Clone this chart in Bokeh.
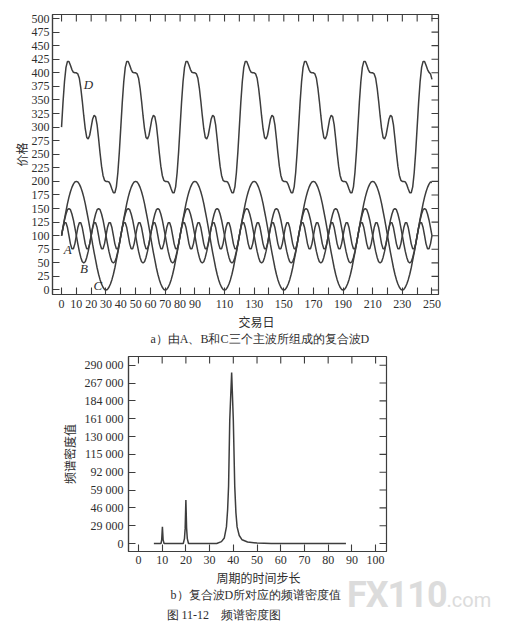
import math
from bokeh.plotting import figure
from bokeh.models import Range1d, FixedTicker, Title, Label, Div
from bokeh.embed import file_html
from bokeh.resources import INLINE

# ---------------- data: chart a (price waves) ----------------
days = list(range(0, 251))

wave_a = [
    100,115,124,124,115,100,85,76,76,85,100,115,124,124,115,100,85,76,76,85,
    100,115,124,124,115,100,85,76,76,85,100,115,124,124,115,100,85,76,76,85,
    100,115,124,124,115,100,85,76,76,85,100,115,124,124,115,100,85,76,76,85,
    100,115,124,124,115,100,85,76,76,85,100,115,124,124,115,100,85,76,76,85,
    100,115,124,124,115,100,85,76,76,85,100,115,124,124,115,100,85,76,76,85,
    100,115,124,124,115,100,85,76,76,85,100,115,124,124,115,100,85,76,76,85,
    100,115,124,124,115,100,85,76,76,85,100,115,124,124,115,100,85,76,76,85,
    100,115,124,124,115,100,85,76,76,85,100,115,124,124,115,100,85,76,76,85,
    100,115,124,124,115,100,85,76,76,85,100,115,124,124,115,100,85,76,76,85,
    100,115,124,124,115,100,85,76,76,85,100,115,124,124,115,100,85,76,76,85,
    100,115,124,124,115,100,85,76,76,85,100,115,124,124,115,100,85,76,76,85,
    100,115,124,124,115,100,85,76,76,85,100,115,124,124,115,100,85,76,76,85,
    100,115,124,124,115,100,85,76,76,85,
    100,
]

wave_b = [
    100,115,129,140,148,150,148,140,129,115,100,85,71,60,52,50,52,60,71,85,
    100,115,129,140,148,150,148,140,129,115,100,85,71,60,52,50,52,60,71,85,
    100,115,129,140,148,150,148,140,129,115,100,85,71,60,52,50,52,60,71,85,
    100,115,129,140,148,150,148,140,129,115,100,85,71,60,52,50,52,60,71,85,
    100,115,129,140,148,150,148,140,129,115,100,85,71,60,52,50,52,60,71,85,
    100,115,129,140,148,150,148,140,129,115,100,85,71,60,52,50,52,60,71,85,
    100,115,129,140,148,150,148,140,129,115,100,85,71,60,52,50,52,60,71,85,
    100,115,129,140,148,150,148,140,129,115,100,85,71,60,52,50,52,60,71,85,
    100,115,129,140,148,150,148,140,129,115,100,85,71,60,52,50,52,60,71,85,
    100,115,129,140,148,150,148,140,129,115,100,85,71,60,52,50,52,60,71,85,
    100,115,129,140,148,150,148,140,129,115,100,85,71,60,52,50,52,60,71,85,
    100,115,129,140,148,150,148,140,129,115,100,85,71,60,52,50,52,60,71,85,
    100,115,129,140,148,150,148,140,129,115,100,
]

wave_c = [
    100,116,131,145,159,171,181,189,195,199,200,199,195,189,181,171,159,145,131,116,
    100,84,69,55,41,29,19,11,5,1,0,1,5,11,19,29,41,55,69,84,
    100,116,131,145,159,171,181,189,195,199,200,199,195,189,181,171,159,145,131,116,
    100,84,69,55,41,29,19,11,5,1,0,1,5,11,19,29,41,55,69,84,
    100,116,131,145,159,171,181,189,195,199,200,199,195,189,181,171,159,145,131,116,
    100,84,69,55,41,29,19,11,5,1,0,1,5,11,19,29,41,55,69,84,
    100,116,131,145,159,171,181,189,195,199,200,199,195,189,181,171,159,145,131,116,
    100,84,69,55,41,29,19,11,5,1,0,1,5,11,19,29,41,55,69,84,
    100,116,131,145,159,171,181,189,195,199,200,199,195,189,181,171,159,145,131,116,
    100,84,69,55,41,29,19,11,5,1,0,1,5,11,19,29,41,55,69,84,
    100,116,131,145,159,171,181,189,195,199,200,199,195,189,181,171,159,145,131,116,
    100,84,69,55,41,29,19,11,5,1,0,1,5,11,19,29,41,55,69,84,
    100,116,131,145,159,171,181,189,195,199,198,
]

wave_d = [
    300,346,384,410,421,421,414,406,401,400,400,398,390,372,348,321,297,281,278,285,
    300,315,322,319,304,279,252,228,211,202,200,200,199,194,186,179,179,190,216,254,
    300,346,384,410,421,421,414,406,401,400,400,398,390,372,348,321,297,281,278,285,
    300,315,322,319,304,279,252,228,211,202,200,200,199,194,186,179,179,190,216,254,
    300,346,384,410,421,421,414,406,401,400,400,398,390,372,348,321,297,281,278,285,
    300,315,322,319,304,279,252,228,211,202,200,200,199,194,186,179,179,190,216,254,
    300,346,384,410,421,421,414,406,401,400,400,398,390,372,348,321,297,281,278,285,
    300,315,322,319,304,279,252,228,211,202,200,200,199,194,186,179,179,190,216,254,
    300,346,384,410,421,421,414,406,401,400,400,398,390,372,348,321,297,281,278,285,
    300,315,322,319,304,279,252,228,211,202,200,200,199,194,186,179,179,190,216,254,
    300,346,384,410,421,421,414,406,401,400,400,398,390,372,348,321,297,281,278,285,
    300,315,322,319,304,279,252,228,211,202,200,200,199,194,186,179,179,190,216,254,
    300,346,384,410,421,421,414,406,401,398,388,
]

price_ticks = list(range(0, 501, 25))
day_ticks = list(range(0, 251, 10))
day_hidden_labels = [100, 120, 140, 160, 180, 200, 220, 240]
day_lo, day_hi = -6.1, 254.4
price_lo, price_hi = -8.3, 507.4

# ---------------- data: chart b (spectral density) ----------------
period = [6.5, 9.5, 9.8, 10.1, 10.4, 10.8,
          18.9, 19.4, 19.7, 20.0, 20.3, 20.6, 21.1,
          33.0, 35.0, 36.2, 37.1, 37.6, 38.0, 38.5, 39.3, 40.0, 40.6, 41.1, 41.6,
          42.5, 43.7, 46.0, 50.0, 56.0, 87.5]
density = [0, 0, 6000, 27000, 6000, 0,
           0, 8000, 25000, 70800, 25000, 8000, 0,
           0, 3000, 9000, 27000, 55000, 93000, 201000, 278000, 201000, 93000, 50000, 27000,
           13000, 6000, 2500, 800, 0, 0]

period_ticks = list(range(0, 101, 10))
density_ticks = [0, 29000, 58000, 87000, 116000, 145000, 174000, 203000, 232000, 261000, 290000]
density_labels = ["0", "29 000", "46 000", "59 000", "92 000", "115 000",
                  "130 000", "161 000", "184 000", "267 000", "290 000"]
period_lo, period_hi = -4.2, 104.6
density_lo, density_hi = -13000, 304150

# ---------------- styling ----------------
INK = "#2e2e2e"
LINE = "#3d3d3d"
SERIF = "Liberation Serif"
CJK = "Noto Sans CJK SC"


def style_axis(ax):
    ax.major_tick_in = 7
    ax.major_tick_out = 0
    ax.minor_tick_line_color = None
    ax.axis_line_color = LINE
    ax.axis_line_width = 1.2
    ax.major_tick_line_color = LINE
    ax.major_tick_line_width = 1.1
    ax.major_label_text_font = SERIF
    ax.major_label_text_color = INK
    ax.major_label_text_font_size = "12px"
    ax.major_label_standoff = 3


def caption(text, offset, font=CJK, standoff=2, line_height=1.0):
    return Title(text=text, align="left", offset=offset, text_font=font,
                 text_font_size="12px", text_font_style="normal",
                 text_color=INK, standoff=standoff, text_line_height=line_height)


def mirror_ticks(p, xticks, yticks, xhi, yhi):
    # inward tick marks on the top and right edges of the frame
    p.scatter(x=xticks, y=yhi, marker="dash", angle=math.pi / 2, size=14,
              line_color=LINE, line_width=1.1)
    p.scatter(x=xhi, y=yticks, marker="dash", size=14,
              line_color=LINE, line_width=1.1)


# ---------------- chart a ----------------
p1 = figure(frame_width=386, frame_height=280,
            x_range=Range1d(day_lo, day_hi), y_range=Range1d(price_lo, price_hi),
            output_backend="svg", toolbar_location=None,
            min_border_left=52, min_border_right=73, min_border_top=14,
            min_border_bottom=2)
p1.grid.visible = False
p1.outline_line_color = LINE
p1.outline_line_width = 1.2

p1.xaxis.ticker = FixedTicker(ticks=day_ticks)
p1.xaxis.major_label_overrides = {t: "" for t in day_hidden_labels}
p1.yaxis.ticker = FixedTicker(ticks=price_ticks)
style_axis(p1.xaxis[0])
style_axis(p1.yaxis[0])
p1.xaxis.major_label_standoff = 5
p1.yaxis.axis_label = "价格"
p1.yaxis.axis_label_text_font = CJK
p1.yaxis.axis_label_text_font_size = "12px"
p1.yaxis.axis_label_text_font_style = "normal"
p1.yaxis.axis_label_text_color = INK
p1.yaxis.axis_label_standoff = -1

mirror_ticks(p1, day_ticks, price_ticks, day_hi, price_hi)

for series in (wave_a, wave_b, wave_c, wave_d):
    p1.line(days, series, line_color=LINE, line_width=1.5)

for name, xx, yy in (("D", 15, 378), ("A", 1.5, 74), ("B", 12.5, 40), ("C", 21.5, 9)):
    p1.add_layout(Label(x=xx, y=yy, text=name, text_font=SERIF,
                        text_font_style="italic", text_font_size="13px",
                        text_color=INK, text_baseline="middle"))

p1.add_layout(caption("交易日", 186, standoff=0, line_height=0.8), "below")
p1.add_layout(caption("a）由A、B和C三个主波所组成的复合波D", 98, font=SERIF, standoff=0), "below")

# ---------------- chart b ----------------
p2 = figure(frame_width=258, frame_height=195,
            x_range=Range1d(period_lo, period_hi), y_range=Range1d(density_lo, density_hi),
            output_backend="svg", toolbar_location=None,
            min_border_left=128, min_border_right=117, min_border_top=11,
            min_border_bottom=0)
p2.grid.visible = False
p2.outline_line_color = LINE
p2.outline_line_width = 1.2

p2.xaxis.ticker = FixedTicker(ticks=period_ticks)
p2.yaxis.ticker = FixedTicker(ticks=density_ticks)
p2.yaxis.major_label_overrides = dict(zip(density_ticks, density_labels))
style_axis(p2.xaxis[0])
style_axis(p2.yaxis[0])
p2.xaxis.major_label_standoff = 4
p2.yaxis.major_label_standoff = 5
p2.yaxis.axis_label = "频谱密度值"
p2.yaxis.axis_label_text_font = CJK
p2.yaxis.axis_label_text_font_size = "12px"
p2.yaxis.axis_label_text_font_style = "normal"
p2.yaxis.axis_label_text_color = INK
p2.yaxis.axis_label_standoff = 4

mirror_ticks(p2, period_ticks, density_ticks, period_hi, density_hi)

p2.line(period, density, line_color=LINE, line_width=1.5)

p2.add_layout(caption("周期的时间步长", 88, standoff=0, line_height=0.8), "below")
p2.add_layout(caption("b）复合波D所对应的频谱密度值", 42, font=SERIF, standoff=1), "below")
p2.add_layout(caption("图 11-12　频谱密度图", 38, font=SERIF, standoff=6), "below")

# watermark (absolute-positioned, light grey)
mark = Div(text='<span style="font: bold 36px Roboto; color: #dcdcdc; letter-spacing: -1px;">FX110</span>'
                '<span style="font: 20px Roboto; color: #dcdcdc;">.com</span>',
           styles={"position": "absolute", "left": "342px", "top": "569px"})

open("out.html", "w").write(file_html([p1, p2, mark], INLINE))
